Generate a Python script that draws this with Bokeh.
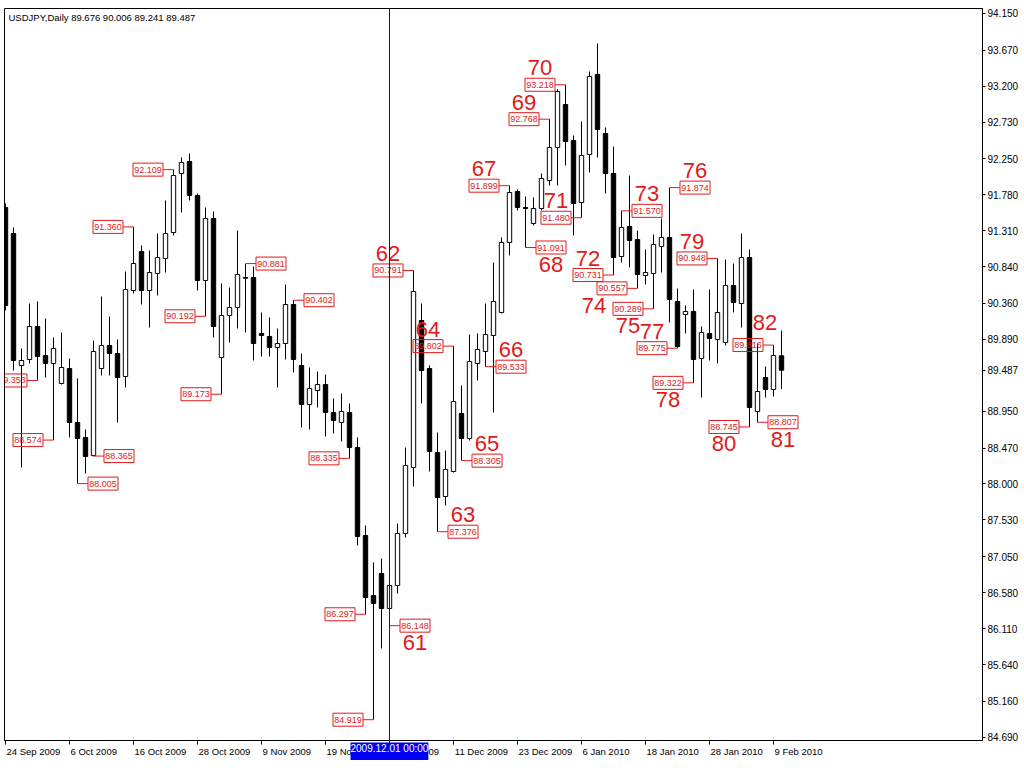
from bokeh.plotting import figure
from bokeh.models import (ColumnDataSource, Range1d, FixedTicker, NumeralTickFormatter, Label, Span,
                          LinearAxis, Title)
from bokeh.core.properties import value
from bokeh.embed import file_html
from bokeh.resources import INLINE

# ---------------- data ----------------
opens = [91.614, 91.274, 89.549, 89.627, 90.058, 89.679, 89.575, 89.313, 89.509, 88.804,
         88.608, 88.370, 89.509, 89.810, 89.706, 89.405, 90.529, 91.039, 90.529, 90.751,
         90.947, 91.287, 92.058, 92.215, 91.771, 90.660, 91.470, 89.653, 90.202, 90.307,
         90.699, 90.699, 89.967, 89.928, 89.784, 89.836, 90.346, 89.549, 89.039, 89.222,
         89.300, 88.934, 88.804, 88.934, 88.477, 87.326, 86.542, 86.830, 86.372, 86.673,
         87.353, 88.215, 90.137, 89.509, 88.411, 87.836, 88.163, 88.921, 88.594, 89.575,
         89.732, 89.941, 90.242, 91.157, 91.823, 91.614, 91.405, 91.601, 91.967, 92.398,
         92.960, 92.490, 91.679, 92.307, 93.353, 92.581, 92.058, 90.973, 91.366, 91.196,
         90.725, 90.751, 91.104, 91.222, 90.385, 90.215, 90.255, 89.640, 89.967, 89.889,
         89.849, 90.594, 90.359, 90.960, 88.947, 89.392, 89.235, 89.676]
highs = [91.666, 91.353, 89.771, 90.359, 90.385, 90.163, 89.915, 89.980, 89.640, 89.379,
         88.712, 89.875, 90.451, 90.189, 89.889, 90.777, 91.360, 91.117, 91.052, 91.274,
         91.706, 92.109, 92.268, 92.320, 91.797, 91.614, 91.562, 90.621, 90.568, 91.313,
         90.881, 90.843, 90.242, 90.176, 90.032, 90.608, 90.402, 89.706, 89.523, 89.470,
         89.431, 89.117, 89.183, 89.052, 88.608, 87.457, 86.974, 87.026, 86.700, 87.483,
         88.477, 90.791, 90.359, 89.550, 88.673, 88.438, 89.802, 89.287, 89.954, 89.967,
         90.359, 90.895, 91.222, 91.899, 91.849, 91.758, 91.745, 92.058, 92.768, 93.160,
         93.218, 92.555, 92.738, 93.392, 93.758, 92.660, 92.411, 91.570, 92.032, 91.313,
         91.065, 91.261, 91.470, 91.874, 90.555, 90.333, 90.542, 90.058, 90.542, 90.948,
         90.934, 90.882, 91.274, 91.065, 89.836, 89.536, 89.816, 90.006]
lows = [90.268, 89.483, 88.215, 89.575, 89.353, 89.392, 88.574, 89.300, 88.608, 88.005,
        88.137, 88.365, 89.418, 89.418, 88.804, 89.261, 90.490, 90.346, 90.045, 90.464,
        90.764, 91.248, 91.549, 91.706, 90.529, 90.192, 89.915, 89.173, 89.849, 90.032,
        89.980, 89.614, 89.666, 89.666, 89.261, 89.627, 89.457, 88.738, 88.712, 89.000,
        88.621, 88.660, 88.555, 88.335, 87.196, 86.297, 84.919, 85.849, 86.148, 86.568,
        87.300, 87.967, 89.052, 88.163, 87.376, 87.719, 88.150, 88.305, 88.568, 89.353,
        89.533, 88.934, 90.229, 90.987, 91.575, 91.091, 91.379, 91.575, 91.902, 91.902,
        92.163, 91.248, 91.480, 92.072, 92.268, 91.797, 90.731, 90.895, 90.830, 90.557,
        90.608, 90.289, 90.764, 90.111, 89.775, 89.967, 89.322, 89.130, 89.614, 89.575,
        89.810, 90.242, 90.045, 88.745, 88.807, 89.130, 89.143, 89.241]
closes = [90.333, 89.614, 89.614, 90.058, 89.666, 89.575, 89.771, 89.523, 88.804, 88.594,
          88.359, 89.732, 89.810, 89.706, 89.392, 90.542, 90.882, 90.529, 90.764, 90.960,
          91.274, 92.032, 92.202, 91.771, 90.660, 91.470, 90.058, 90.202, 90.307, 90.738,
          90.690, 89.836, 89.941, 89.784, 89.836, 90.346, 89.627, 89.039, 89.248, 89.300,
          88.934, 88.830, 88.947, 88.477, 87.313, 86.516, 86.438, 86.372, 86.673, 87.353,
          88.242, 90.516, 89.483, 88.425, 87.823, 88.189, 89.078, 88.594, 89.601, 89.758,
          89.954, 90.385, 91.157, 91.810, 91.614, 91.600, 91.601, 91.993, 92.398, 93.130,
          92.477, 91.666, 92.294, 93.326, 92.634, 92.058, 90.960, 91.353, 91.183, 90.738,
          90.764, 91.130, 91.222, 90.411, 89.797, 90.255, 89.627, 89.980, 89.902, 90.242,
          90.594, 90.372, 90.960, 89.000, 89.209, 89.235, 89.679, 89.487]

tick_bars = [0, 8, 16, 24, 32, 40, 48, 56, 64, 72, 80, 88, 96]
tick_labels = ["24 Sep 2009", "6 Oct 2009", "16 Oct 2009", "28 Oct 2009", "9 Nov 2009",
               "19 Nov 2009", "1 Dec 2009", "11 Dec 2009", "23 Dec 2009", "6 Jan 2010",
               "18 Jan 2010", "28 Jan 2010", "9 Feb 2010"]
price_ticks = [84.690, 85.160, 85.640, 86.110, 86.580, 87.050, 87.530, 88.000, 88.470, 88.950,
               89.420, 89.890, 90.360, 90.840, 91.310, 91.780, 92.250, 92.730, 93.200, 93.670, 94.150]

ann_bar = [4, 6, 9, 11, 16, 21, 25, 27, 30, 36, 43, 45, 46,
           48, 51, 54, 56, 57, 60, 63, 65, 68, 70, 72, 76, 77, 79, 81, 83, 84, 86, 89, 93, 94, 96]
ann_price = [89.353, 88.574, 88.005, 88.365, 91.360, 92.109, 90.192, 89.173, 90.881, 90.402, 88.335, 86.297, 84.919,
             86.148, 90.791, 87.376, 89.802, 88.305, 89.533, 91.899, 91.091, 92.768, 93.218, 91.480, 90.731,
             91.570, 90.557, 90.289, 91.874, 89.775, 89.322, 90.948, 88.745, 88.807, 89.816]
ann_side = [-1, -1, 1, 1, -1, -1, -1, -1, 1, 1, -1, -1, -1,
            1, -1, 1, -1, 1, 1, -1, 1, -1, -1, -1, -1, 1, -1, -1, 1, -1, -1, -1, -1, 1, -1]
ann_num = ["", "", "", "", "", "", "", "", "", "", "", "", "",
           "61", "62", "63", "64", "65", "66", "67", "68", "69", "70", "71", "72",
           "73", "74", "75", "76", "77", "78", "79", "80", "81", "82"]
ann_num_pos = ["", "", "", "", "", "", "", "", "", "", "", "", "",
               "below", "above", "above", "above", "above", "above", "above", "below", "above", "above",
               "above", "above", "above", "below", "below", "above", "above", "below", "above", "below",
               "below", "above"]

last_price = 89.487
title_text = "USDJPY,Daily  89.676 90.006 89.241 89.487"
cursor_bar = 48
cursor_text = "2009.12.01 00:00"

# ---------------- layout ----------------
RED = "#e01a1a"
FONT = "Liberation Sans"
FW, FH = 978, 732
BL, BT, BR, BB = 4, 8, 42, 18
X0, X1 = -0.125, 122.125
Y0, Y1 = 84.647, 94.215
PXB = FW / (X1 - X0)          # pixels per bar
PXY = FH / (Y1 - Y0)          # pixels per yen

p = figure(frame_width=FW, frame_height=FH, x_range=Range1d(X0, X1), y_range=Range1d(Y0, Y1),
           output_backend="svg", toolbar_location=None, y_axis_location="right",
           x_axis_location=None, min_border=0)
p.min_border_left = BL
p.min_border_top = BT
p.min_border_right = BR
p.min_border_bottom = BB
p.grid.visible = False
p.outline_line_color = "black"
p.background_fill_color = "white"
p.border_fill_color = "white"

# bottom axis: minor ticks mark the bars, labels start at each tick
CW = {" ": 0.278, "S": 0.667, "O": 0.778, "N": 0.722, "D": 0.722, "J": 0.5, "F": 0.611,
      "e": 0.556, "p": 0.556, "c": 0.5, "t": 0.278, "o": 0.556, "v": 0.5, "a": 0.556,
      "n": 0.556, "b": 0.556}
DATE_FS = 9.5
def text_w(s):
    return sum(CW.get(ch, 0.556) for ch in s) * DATE_FS
lab_pos = [b + (text_w(t) / 2 + 1) / PXB for b, t in zip(tick_bars, tick_labels)]
xa = LinearAxis(ticker=FixedTicker(ticks=lab_pos, minor_ticks=tick_bars),
                major_tick_out=4, major_tick_in=0, major_tick_line_color=None,
                minor_tick_out=4, minor_tick_in=0, minor_tick_line_color="black",
                major_label_standoff=1, axis_line_color="black",
                major_label_overrides={lp: t for lp, t in zip(lab_pos, tick_labels)},
                major_label_text_font=FONT, major_label_text_font_size=f"{DATE_FS}px",
                major_label_text_color="black")
p.add_layout(xa, "below")

# right price axis (the last price takes the place of the 89.420 label it covers)
ya = p.yaxis[0]
ya_ticks = [t for t in price_ticks if abs(t - last_price) > 0.1] + [last_price]
ya.ticker = FixedTicker(ticks=ya_ticks)
ya.formatter = NumeralTickFormatter(format="0.000")
ya.major_tick_out = 3
ya.major_tick_in = 0
ya.minor_tick_out = 0
ya.minor_tick_in = 0
ya.major_label_standoff = 2
ya.axis_line_color = "black"
ya.major_label_text_font = FONT
ya.major_label_text_font_size = "10px"
ya.major_label_text_color = "black"

# candles
xs = list(range(len(opens)))
src = ColumnDataSource(dict(
    x=xs, o=opens, h=highs, l=lows, c=closes,
    top=[max(o, c) for o, c in zip(opens, closes)],
    bottom=[min(o, c) for o, c in zip(opens, closes)],
    fill=["white" if c > o else "black" for o, c in zip(opens, closes)],
))
p.segment(x0="x", y0="h", x1="x", y1="l", source=src, line_color="black", line_width=1)
p.vbar(x="x", width=0.55, top="top", bottom="bottom", fill_color="fill", line_color="black",
       line_width=1, source=src)

# cursor line
p.add_layout(Span(location=cursor_bar, dimension="height", line_color="#0a0aa8", line_width=1))

# annotation boxes
box_x = [b + s * 25.5 / PXB for b, s in zip(ann_bar, ann_side)]
conn_x = [b + s * 10.5 / PXB for b, s in zip(ann_bar, ann_side)]
p.segment(x0=ann_bar, y0=ann_price, x1=conn_x, y1=ann_price, line_color=RED, line_width=1)
p.rect(x=box_x, y=ann_price, width=30, height=13, width_units="screen", height_units="screen",
       fill_alpha=0, line_color=RED, line_width=1)
p.text(x=box_x, y=ann_price, text=[f"{v:.3f}" for v in ann_price], text_align="center",
       text_baseline="middle", text_font=value(FONT), text_font_size="9px", text_color=RED)

# swing numbers
nx, ny, nt, nxo, nyo = [], [], [], [], []
special_dx = {"74": -18, "82": 17}
special_dy = {"82": -23}
for bx, pr, num, pos in zip(box_x, ann_price, ann_num, ann_num_pos):
    if not num:
        continue
    nx.append(bx)
    ny.append(pr)
    nt.append(num)
    nxo.append(special_dx.get(num, 0))
    nyo.append(special_dy.get(num, -17 if pos == "above" else 17))
p.text(x=nx, y=ny, text=nt, x_offset=nxo, y_offset=nyo, text_align="center", text_baseline="middle",
       text_font=value(FONT), text_font_size="22px", text_color=RED)

# chart caption inside the frame
p.add_layout(Label(x=X0 + 4 / PXB, y=Y1 - 9 / PXY, text=title_text, text_font=FONT,
                   text_font_size="9.5px", text_color="black", text_align="left", text_baseline="middle"))

# cursor time marker on the date axis (extra blank lines let it sit over the date row)
cursor_left = (cursor_bar - X0) * PXB - 39
cur = Title(text=cursor_text + "\n\n", align="left", offset=cursor_left, standoff=-34, vertical_align="top",
            text_font=FONT, text_font_size="10px", text_font_style="normal", text_color="white",
            background_fill_color="#0000f0")
p.add_layout(cur, "below")

open("out.html", "w").write(file_html(p, INLINE))
